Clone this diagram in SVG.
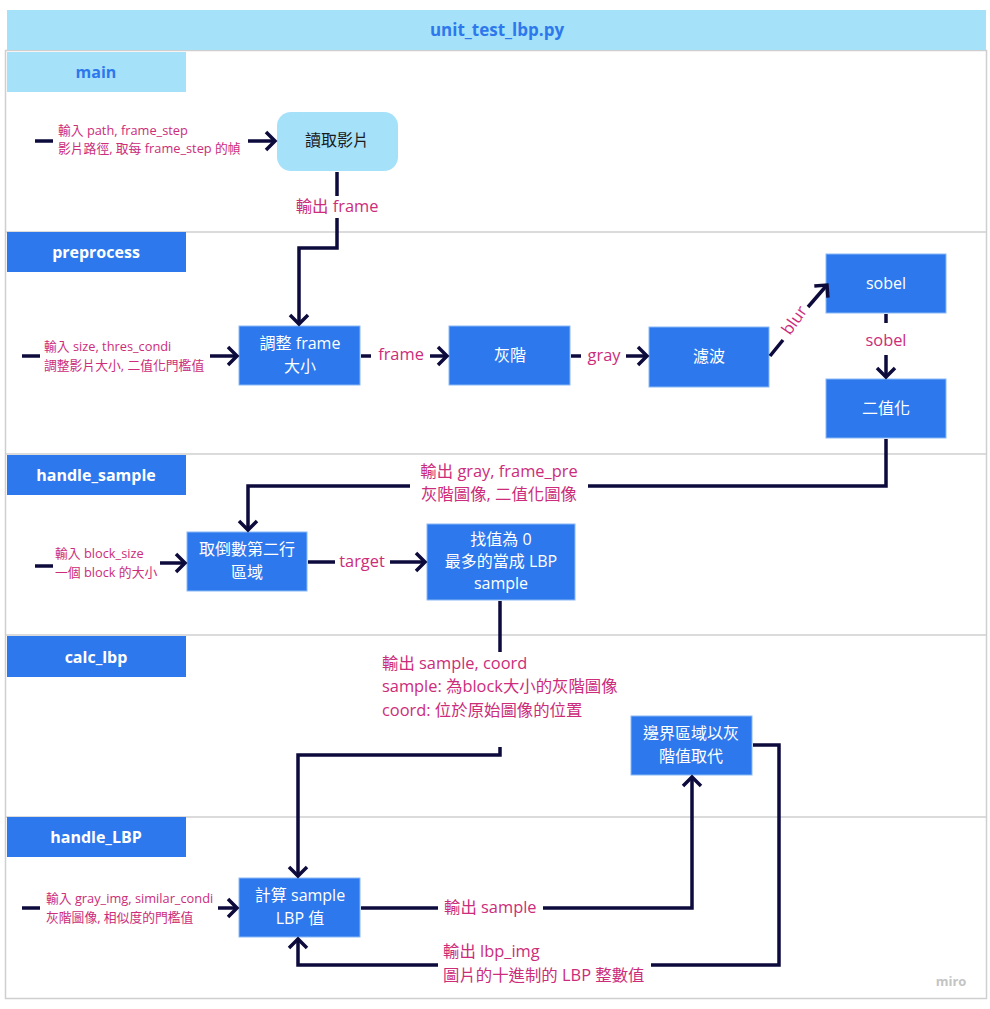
<svg xmlns="http://www.w3.org/2000/svg" width="990" height="1009" viewBox="0 0 990 1009">
<defs>
<style>
.lane{fill:#2d78ec}
.lanet{font-family:"Open Sans","Noto Sans",sans-serif;font-weight:bold;font-size:16px;fill:#fff;text-anchor:middle}
.node{fill:#2d78ec;stroke:#8ab8f5;stroke-width:1}
.nt{font-family:"Open Sans","Noto Sans CJK TC",sans-serif;font-size:16px;fill:#fff;text-anchor:middle}
.c{fill:none;stroke:#0d0a3c;stroke-width:3.5}
.lb{font-family:"Open Sans","Noto Sans CJK TC",sans-serif;font-size:16.4px;fill:#cc2c7a}
.sl{font-family:"Open Sans","Noto Sans CJK TC",sans-serif;font-size:12.8px;fill:#cc2c7a}
.sep{stroke:#cfcfcf;stroke-width:1.5}
</style>
<marker id="arr" markerWidth="14" markerHeight="22" refX="11" refY="11" orient="auto" markerUnits="userSpaceOnUse">
<path d="M2,2 L11,11 L2,20" fill="none" stroke="#0d0a3c" stroke-width="3.5"/>
</marker>
</defs>
<rect width="990" height="1009" fill="#fff"/>
<g id="frame">
<rect x="5.5" y="50.5" width="981" height="948" fill="#fff" stroke="#cfcfcf" stroke-width="1.5"/>
<rect x="7" y="10" width="979" height="40" fill="#a6e1fa"/>
<text x="497" y="36" font-family="'Open Sans','Noto Sans',sans-serif" font-weight="bold" font-size="17" fill="#2d78ec" text-anchor="middle">unit_test_lbp.py</text>
<line class="sep" x1="6" y1="232" x2="986" y2="232"/>
<line class="sep" x1="6" y1="454" x2="986" y2="454"/>
<line class="sep" x1="6" y1="635" x2="986" y2="635"/>
<line class="sep" x1="6" y1="817" x2="986" y2="817"/>
<text x="951" y="986" font-family="'Open Sans',sans-serif" font-weight="bold" font-size="13" fill="#c4c4c4" text-anchor="middle">miro</text>
</g>
<g id="lane-main"><rect x="7" y="52" width="179" height="40" fill="#a6e1fa"/><text class="lanet" x="96" y="78" style="fill:#2d78ec">main</text></g>
<g id="lane-preprocess"><rect class="lane" x="7" y="232" width="179" height="40"/><text class="lanet" x="96" y="258">preprocess</text></g>
<g id="lane-handle_sample"><rect class="lane" x="7" y="455" width="179" height="40"/><text class="lanet" x="96" y="481">handle_sample</text></g>
<g id="lane-calc_lbp"><rect class="lane" x="7" y="636" width="179" height="41"/><text class="lanet" x="96" y="663">calc_lbp</text></g>
<g id="lane-handle_LBP"><rect class="lane" x="7" y="817" width="179" height="40"/><text class="lanet" x="96" y="843">handle_LBP</text></g>

<g id="n-read"><rect x="277" y="112" width="121" height="59" rx="14" fill="#a6e1fa"/><text class="nt" x="337" y="146" style="fill:#1a1a1a">讀取影片</text></g>
<g id="n-resize"><rect class="node" x="239" y="326" width="121" height="59"/><text class="nt" x="300" y="349">調整 frame</text><text class="nt" x="300" y="372">大小</text></g>
<g id="n-gray"><rect class="node" x="449" y="326" width="121" height="59"/><text class="nt" x="510" y="361">灰階</text></g>
<g id="n-blur"><rect class="node" x="649" y="327" width="120" height="60"/><text class="nt" x="709" y="362">濾波</text></g>
<g id="n-sobel"><rect class="node" x="826" y="254" width="120" height="59"/><text class="nt" x="886" y="289">sobel</text></g>
<g id="n-binary"><rect class="node" x="826" y="379" width="120" height="59"/><text class="nt" x="886" y="414">二值化</text></g>
<g id="n-row"><rect class="node" x="187" y="532" width="120" height="59"/><text class="nt" x="247" y="555">取倒數第二行</text><text class="nt" x="247" y="578">區域</text></g>
<g id="n-find"><rect class="node" x="427" y="524" width="148" height="76"/><text class="nt" x="501" y="545">找值為 0</text><text class="nt" x="501" y="567">最多的當成 LBP</text><text class="nt" x="501" y="589">sample</text></g>
<g id="n-border"><rect class="node" x="631" y="716" width="121" height="59"/><text class="nt" x="691" y="739">邊界區域以灰</text><text class="nt" x="691" y="762">階值取代</text></g>
<g id="n-calc"><rect class="node" x="239" y="878" width="121" height="59"/><text class="nt" x="300" y="901">計算 sample</text><text class="nt" x="300" y="924">LBP 值</text></g>

<g id="connectors">
<line class="c" x1="35" y1="141" x2="53" y2="141"/>
<line class="c" x1="248" y1="141" x2="275" y2="141" marker-end="url(#arr)"/>
<text class="sl" x="58" y="135">輸入 path, frame_step</text>
<text class="sl" x="58" y="153">影片路徑, 取每 frame_step 的幀</text>

<line class="c" x1="337" y1="172" x2="337" y2="196"/>
<text class="lb" x="337" y="212" text-anchor="middle">輸出 frame</text>
<polyline class="c" points="337,218 337,248 299,248 299,324" marker-end="url(#arr)"/>

<line class="c" x1="22" y1="356" x2="40" y2="356"/>
<line class="c" x1="210" y1="356" x2="237" y2="356" marker-end="url(#arr)"/>
<text class="sl" x="44" y="351">輸入 size, thres_condi</text>
<text class="sl" x="44" y="370">調整影片大小, 二值化門檻值</text>

<line class="c" x1="361" y1="356" x2="371" y2="356"/>
<text class="lb" x="401" y="360" text-anchor="middle">frame</text>
<line class="c" x1="430" y1="356" x2="447" y2="356" marker-end="url(#arr)"/>

<line class="c" x1="571" y1="356" x2="581" y2="356"/>
<text class="lb" x="604" y="361" text-anchor="middle">gray</text>
<line class="c" x1="626" y1="356" x2="647" y2="356" marker-end="url(#arr)"/>

<line class="c" x1="770" y1="356" x2="783" y2="340"/>
<text class="lb" x="794" y="326" text-anchor="middle" transform="rotate(-55 794 320)">blur</text>
<line class="c" x1="808" y1="307" x2="827" y2="285" marker-end="url(#arr)"/>

<line class="c" x1="886" y1="314" x2="886" y2="323"/>
<text class="lb" x="886" y="346" text-anchor="middle">sobel</text>
<line class="c" x1="886" y1="355" x2="886" y2="377" marker-end="url(#arr)"/>

<polyline class="c" points="886,439 886,486 588,486"/>
<text class="lb" x="499" y="477" text-anchor="middle">輸出 gray, frame_pre</text>
<text class="lb" x="499" y="500" text-anchor="middle">灰階圖像, 二值化圖像</text>
<polyline class="c" points="410,486 248,486 248,530" marker-end="url(#arr)"/>

<line class="c" x1="35" y1="566" x2="53" y2="566"/>
<line class="c" x1="160" y1="563" x2="185" y2="563" marker-end="url(#arr)"/>
<text class="sl" x="55" y="558">輸入 block_size</text>
<text class="sl" x="55" y="577">一個 block 的大小</text>

<line class="c" x1="308" y1="562" x2="335" y2="562"/>
<text class="lb" x="362" y="567" text-anchor="middle">target</text>
<line class="c" x1="390" y1="562" x2="425" y2="562" marker-end="url(#arr)"/>

<line class="c" x1="500" y1="601" x2="500" y2="652"/>
<text class="lb" x="382" y="669">輸出 sample, coord</text>
<text class="lb" x="382" y="692">sample: 為block大小的灰階圖像</text>
<text class="lb" x="382" y="716">coord: 位於原始圖像的位置</text>
<polyline class="c" points="500,747 500,755 298,755 298,876" marker-end="url(#arr)"/>

<line class="c" x1="22" y1="908" x2="40" y2="908"/>
<line class="c" x1="218" y1="908" x2="237" y2="908" marker-end="url(#arr)"/>
<text class="sl" x="46" y="903">輸入 gray_img, similar_condi</text>
<text class="sl" x="46" y="922">灰階圖像, 相似度的門檻值</text>

<line class="c" x1="361" y1="908" x2="438" y2="908"/>
<text class="lb" x="444" y="913">輸出 sample</text>
<polyline class="c" points="543,908 692,908 692,777" marker-end="url(#arr)"/>

<polyline class="c" points="753,745 779,745 779,965 651,965"/>
<text class="lb" x="443" y="957">輸出 lbp_img</text>
<text class="lb" x="443" y="981">圖片的十進制的 LBP 整數值</text>
<polyline class="c" points="438,965 298,965 298,939" marker-end="url(#arr)"/>
</g>
</svg>
